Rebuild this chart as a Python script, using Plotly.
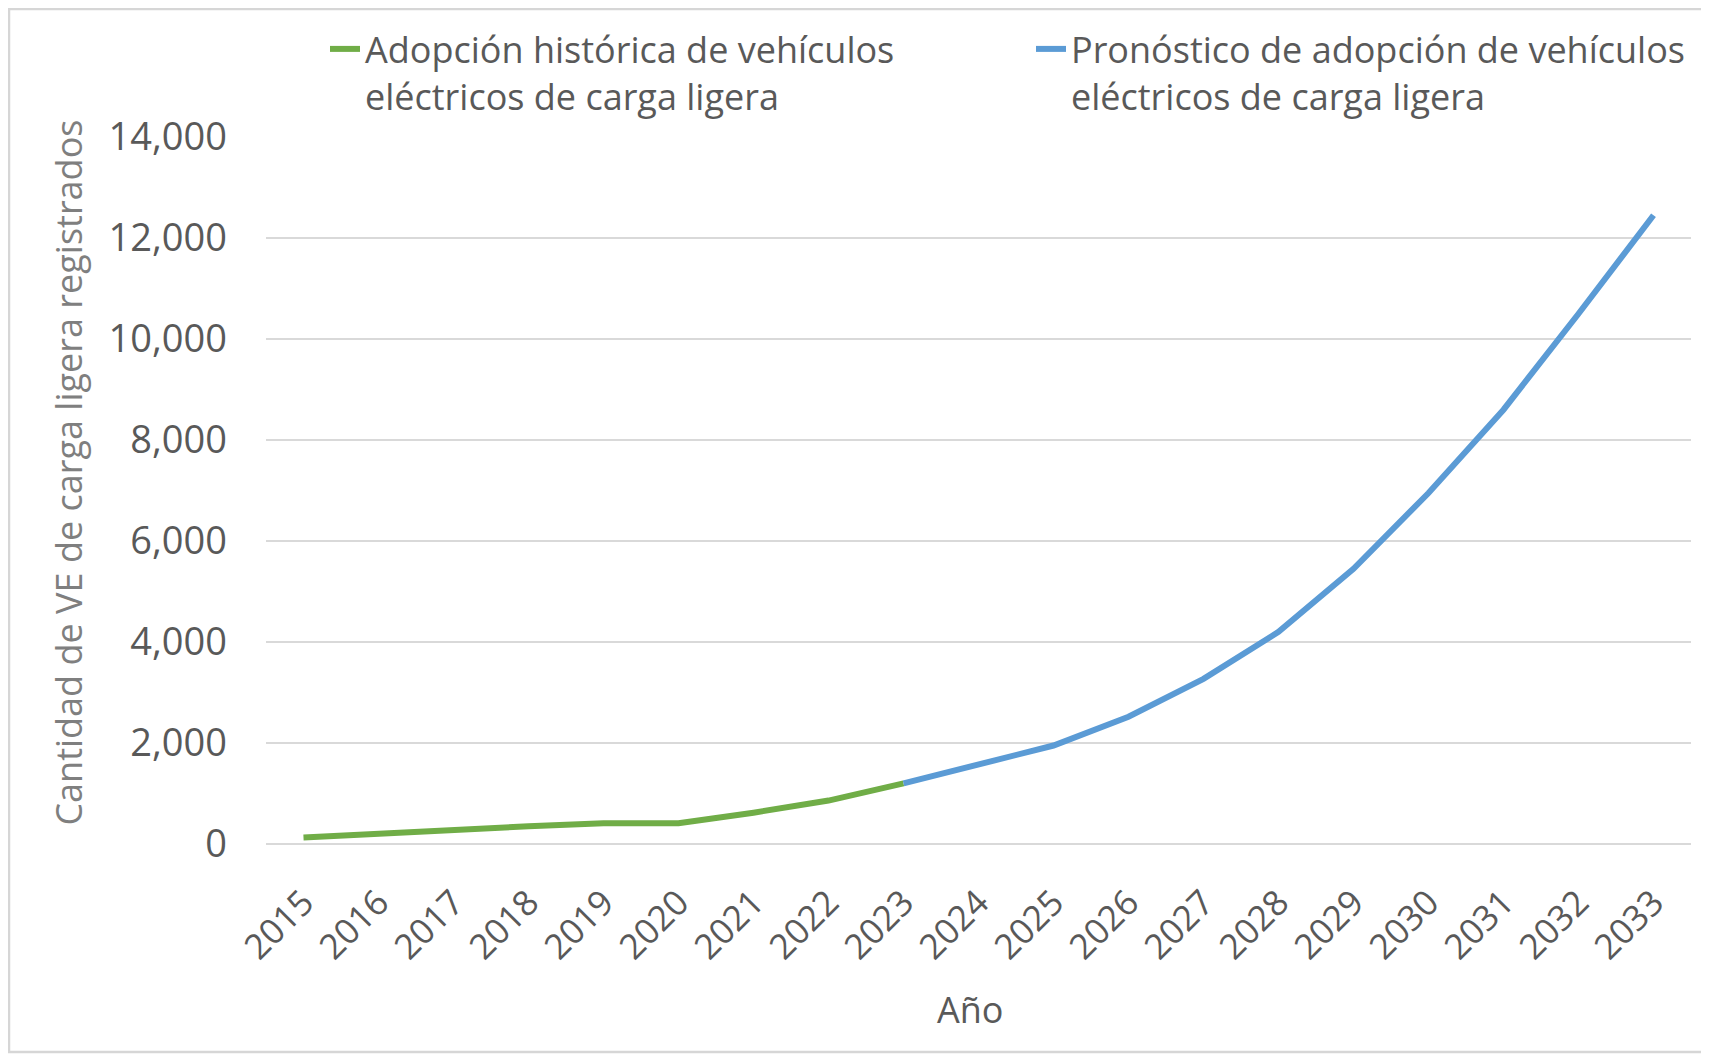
import plotly.graph_objects as go

years = [str(y) for y in range(2015, 2034)]
hist_years = years[:9]
hist_values = [130, 210, 290, 350, 410, 410, 620, 860, 1200]
fc_years = years[8:]
fc_values = [1200, 1560, 1950, 2520, 3270, 4200, 5450, 6950, 8600, 10500, 12450]

y_ticks = [0, 2000, 4000, 6000, 8000, 10000, 12000, 14000]
y_ticktext = ["0", "2,000", "4,000", "6,000", "8,000", "10,000", "12,000", "14,000"]

name_hist = "Adopción histórica de vehículos<br>eléctricos de carga ligera"
name_fc = "Pronóstico de adopción de vehículos<br>eléctricos de carga ligera"
x_title = "Año"
y_title = "Cantidad de VE de carga ligera registrados"

GREEN = "#70AD47"
BLUE = "#5B9BD5"
TXT = "#595959"

W, H = 1701, 1047
L, R, T, B = 258, 18, 129, 211
PW, PH = W - L - R, H - T - B

fig = go.Figure()
fig.add_trace(go.Scatter(x=hist_years, y=hist_values, mode="lines", name=name_hist,
                         line=dict(color=GREEN, width=6), legend="legend"))
fig.add_trace(go.Scatter(x=fc_years, y=fc_values, mode="lines", name=name_fc,
                         line=dict(color=BLUE, width=6), legend="legend2"))

leg_common = dict(orientation="h", xanchor="left", yanchor="top",
                  font=dict(size=36, color=TXT), valign="top",
                  bgcolor="rgba(0,0,0,0)", itemwidth=30)

fig.update_layout(
    width=W, height=H,
    margin=dict(l=L, r=R, t=T, b=B, autoexpand=False),
    paper_bgcolor="white", plot_bgcolor="white",
    font=dict(family="Open Sans", color=TXT),
    showlegend=True,
    legend=dict(x=(317 - L) / PW, y=(T + PH - 11) / PH, **leg_common),
    legend2=dict(x=(1023 - L) / PW, y=(T + PH - 11) / PH, **leg_common),
    xaxis=dict(type="category", categoryorder="array", categoryarray=years,
               range=[-0.5, 18.5],
               tickangle=-45, tickfont=dict(size=35, color=TXT),
               showgrid=False, showline=False, zeroline=False, ticks="",
               ticklabelstandoff=30),
    yaxis=dict(range=[0, 14000], tickvals=y_ticks, ticktext=y_ticktext,
               tickfont=dict(size=38, color=TXT),
               showgrid=True, gridcolor="#D9D9D9", gridwidth=2,
               zeroline=True, zerolinecolor="#D9D9D9", zerolinewidth=2,
               showline=False, ticks="", ticklabelstandoff=38),
    annotations=[
        dict(text=y_title, textangle=-90, xref="paper", yref="paper",
             x=(59.6 - L) / PW, y=(T + PH - 465) / PH, xanchor="center", yanchor="middle",
             showarrow=False, font=dict(size=36, color="#7F7F7F")),
        dict(text=x_title, xref="paper", yref="paper",
             x=(962 - L) / PW, y=(T + PH - 1001) / PH, xanchor="center", yanchor="middle",
             showarrow=False, font=dict(size=36, color=TXT)),
    ],
    shapes=[dict(type="rect", xref="paper", yref="paper",
                 x0=(1 - L) / PW, x1=(W + 10 - L) / PW,
                 y0=(T + PH - (H - 3)) / PH, y1=(T + PH - 1) / PH,
                 line=dict(color="#D6D6D6", width=2.5), fillcolor="rgba(0,0,0,0)",
                 layer="below")],
)

fig.write_html("out.html")
